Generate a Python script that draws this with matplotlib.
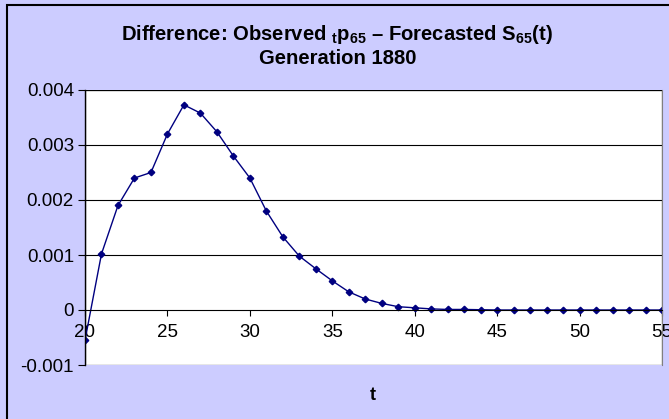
import matplotlib
matplotlib.use("Agg")
import matplotlib.pyplot as plt
from matplotlib.patches import Rectangle

t = list(range(20, 56))
diff = [-0.00055, 0.00102, 0.0019, 0.0024, 0.0025, 0.0032, 0.00373, 0.00358,
        0.00324, 0.0028, 0.0024, 0.0018, 0.00133, 0.00098, 0.00075, 0.00053,
        0.00033, 0.0002, 0.00012, 0.00006, 0.00004, 0.00002, 0.00001, 0.00001,
        0.000005, 0, 0, 0, 0, 0, 0, 0, 0, 0, 0, 0]
xticks = [20, 25, 30, 35, 40, 45, 50, 55]
yticks = [-0.001, 0, 0.001, 0.002, 0.003, 0.004]
ytick_labels = ["-0.001", "0", "0.001", "0.002", "0.003", "0.004"]

plt.rcParams['font.family'] = ['Liberation Sans', 'DejaVu Sans']
plt.rcParams['mathtext.fontset'] = 'custom'
plt.rcParams['mathtext.rm'] = 'Liberation Sans:bold'
plt.rcParams['mathtext.it'] = 'Liberation Sans:bold'
plt.rcParams['mathtext.bf'] = 'Liberation Sans:bold'

bg = '#CCCCFF'
fig = plt.figure(figsize=(6.69, 4.19), dpi=100, facecolor=bg)
fig.patches.append(Rectangle((7/669, -0.1), 1.2, 1.1 - 5/419,
                             transform=fig.transFigure, fill=False,
                             edgecolor='black', linewidth=1.5))

ax = fig.add_axes([85/669, 1 - 365/419, (662 - 85)/669, (365 - 90)/419])
ax.set_facecolor('white')
ax.plot(t, diff, color='#000080', linewidth=1, marker='D', markersize=3.3)

ax.set_xlim(20, 55)
ax.set_ylim(-0.001, 0.004)
ax.set_xticks(xticks)
ax.set_xticklabels([str(x) for x in xticks])
ax.set_yticks(yticks)
ax.set_yticklabels(ytick_labels)
for y in [0.001, 0.002, 0.003, 0.004]:
    ax.axhline(y, color='black', linewidth=0.8, zorder=0.5)

ax.spines['top'].set_visible(False)
ax.spines['right'].set_color('#808080')
ax.spines['bottom'].set_position(('data', 0))
ax.spines['bottom'].set_color('black')
ax.spines['bottom'].set_linewidth(0.8)
ax.spines['left'].set_color('black')
ax.spines['left'].set_linewidth(1)
ax.add_patch(Rectangle((0, 0), 1, 1, transform=ax.transAxes, fill=False,
                       edgecolor='#808080', linewidth=1, zorder=0.4))

ax.tick_params(axis='x', direction='out', length=4, width=0.8, labelsize=13.5,
               pad=6, colors='black')
ax.tick_params(axis='y', direction='out', length=5, width=0.8, labelsize=13.5,
               pad=3)

fig.text(0.5 + 3/669, 1 - 34/419,
         r"Difference: Observed $_{t}p_{65}$ – Forecasted S$_{65}$(t)",
         ha='center', va='center', fontsize=14.6, fontweight='bold')
fig.text(0.5 + 3/669, 1 - 59/419, "Generation 1880",
         ha='center', va='center', fontsize=14.6, fontweight='bold')
fig.text(373/669, 1 - 395/419, "t", ha='center', va='center',
         fontsize=13, fontweight='bold')

fig.savefig('out.png', dpi=100, facecolor=bg)
